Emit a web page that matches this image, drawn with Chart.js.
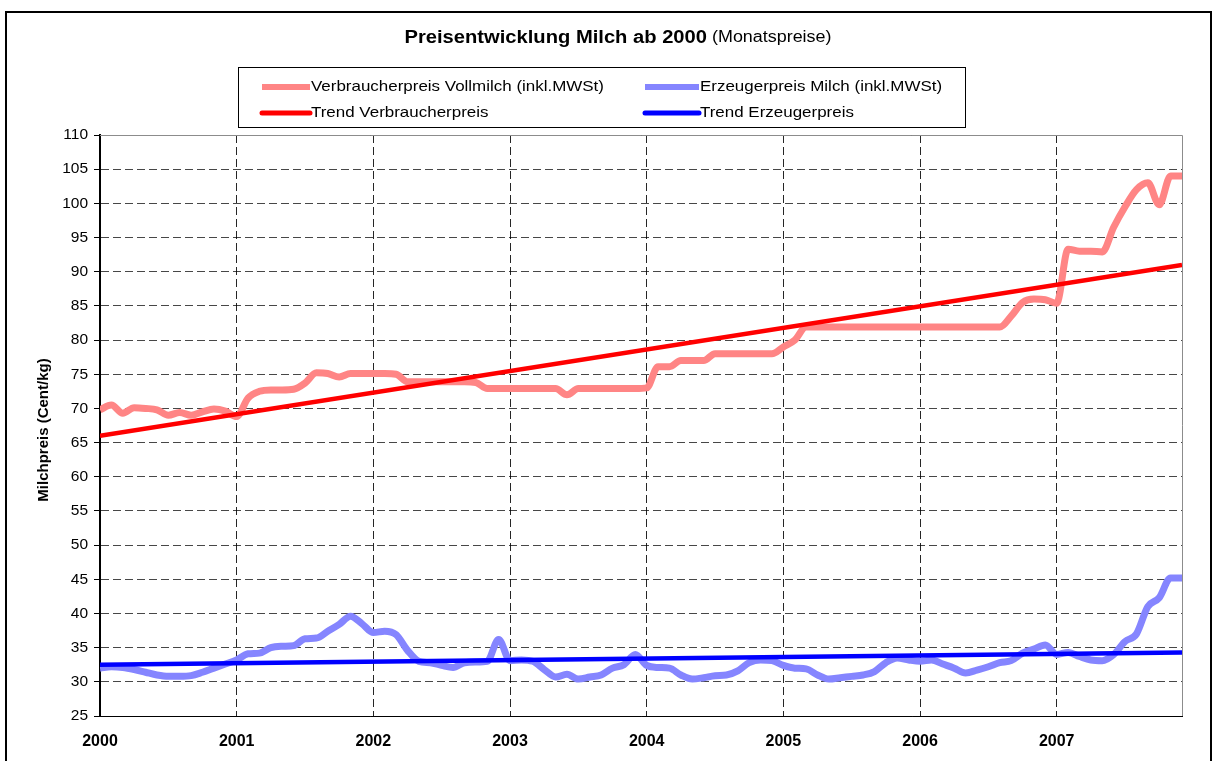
<!DOCTYPE html>
<html lang="de">
<head>
  <meta charset="UTF-8">
  <title>Preisentwicklung Milch ab 2000</title>
  <script src="https://cdn.jsdelivr.net/npm/chart.js"></script>
  <style>
    html, body { margin: 0; padding: 0; background: #fff; }
    canvas { display: block; }
  </style>
</head>
<body>
  <canvas id="milchChart" width="1216" height="761"></canvas>

  <script>
    // Jahresbeschriftung der x-Achse (ein Tick je 12 Monate, Jan 2000 = Monat 0)
    const yearLabels = ['2000', '2001', '2002', '2003', '2004', '2005', '2006', '2007'];

    // Monatspreise Jan 2000 - Dez 2007 (Cent/kg)
    const verbraucherpreis = [
      69.8, 70.5, 69.3, 70.1, 70.0, 69.8, 69.0, 69.4, 69.0, 69.5, 69.9, 69.6,
      68.8, 71.5, 72.5, 72.7, 72.7, 72.8, 73.7, 75.2, 75.1, 74.6, 75.1, 75.1,
      75.1, 75.1, 75.0, 73.9, 73.9, 73.9, 73.9, 73.9, 73.9, 73.8, 72.9, 72.9,
      72.9, 72.9, 72.9, 72.9, 72.9, 72.0, 72.9, 72.9, 72.9, 72.9, 72.9, 72.9,
      73.0, 76.1, 76.1, 77.0, 77.0, 77.0, 78.0, 78.0, 78.0, 78.0, 78.0, 78.0,
      79.0, 80.0, 81.9, 81.9, 81.9, 81.9, 81.9, 81.9, 81.9, 81.9, 81.9, 81.9,
      81.9, 81.9, 81.9, 81.9, 81.9, 81.9, 81.9, 81.9, 83.5, 85.5, 86.0, 85.9,
      85.4, 93.3, 93.0, 93.0, 92.9, 96.5, 99.5, 102.0, 103.0, 99.8, 104.0, 104.0
    ];
    const erzeugerpreis = [
      32.0, 32.2, 32.1, 31.8, 31.4, 31.0, 30.8, 30.8, 30.9, 31.4, 32.0, 32.6,
      33.2, 34.1, 34.2, 35.0, 35.2, 35.3, 36.3, 36.4, 37.4, 38.4, 39.6, 38.5,
      37.2, 37.4, 36.9, 34.6, 33.0, 32.8, 32.4, 32.1, 32.8, 32.9, 33.0, 36.2,
      33.1, 33.2, 33.0, 31.8, 30.7, 31.1, 30.4, 30.7, 31.0, 32.0, 32.5, 34.0,
      32.4, 32.1, 32.0, 31.0, 30.4, 30.6, 30.9, 31.0, 31.6, 32.8, 33.2, 33.1,
      32.4, 32.0, 31.9, 31.0, 30.4, 30.6, 30.8, 31.0, 31.5, 32.8, 33.5, 33.2,
      33.0, 33.2, 32.6, 32.0, 31.3, 31.7, 32.2, 32.8, 33.1, 34.2, 34.8, 35.4,
      34.0, 34.3, 33.7, 33.2, 33.1, 34.0, 35.9, 37.0, 41.0, 42.3, 45.2, 45.2
    ];
    // Lineare Trends: Wert am ersten und letzten Monat
    const trendVerbraucher = [66.0, 91.0];
    const trendErzeuger = [32.5, 34.3];

    const lastMonth = verbraucherpreis.length - 1;
    const toPoints = arr => arr.map((v, i) => ({ x: i, y: v }));
    const trendPoints = arr => [{ x: 0, y: arr[0] }, { x: lastMonth, y: arr[1] }];

    const FONT = '"Liberation Sans", Arial, sans-serif';

    // Text leicht in die Breite gezogen, wie in der Vorlage
    function wideText(ctx, text, x, y, sx) {
      ctx.save();
      ctx.translate(x, y);
      ctx.scale(sx, 1);
      ctx.fillText(text, 0, 0);
      ctx.restore();
    }

    // Rahmen, Titel, Legende und y-Achsentitel wie in der Excel-Vorlage
    const decorPlugin = {
      id: 'decor',
      afterDraw(chart) {
        const ctx = chart.ctx;
        const area = chart.chartArea;
        ctx.save();

        // Aussenrahmen
        ctx.strokeStyle = '#000';
        ctx.lineWidth = 2;
        ctx.strokeRect(6, 12, 1205, 760);

        // Plotrahmen oben/rechts
        ctx.strokeStyle = '#8c8c8c';
        ctx.lineWidth = 1;
        ctx.beginPath();
        ctx.moveTo(area.left, area.top + 0.5);
        ctx.lineTo(area.right + 0.5, area.top + 0.5);
        ctx.lineTo(area.right + 0.5, area.bottom);
        ctx.stroke();

        // Titel: fetter Teil + normaler Teil
        const sx = 1.12;
        const t1 = 'Preisentwicklung Milch ab 2000';
        const t2 = ' (Monatspreise)';
        ctx.textBaseline = 'middle';
        ctx.textAlign = 'left';
        ctx.fillStyle = '#000';
        ctx.font = 'bold 18px ' + FONT;
        const w1 = ctx.measureText(t1).width * sx;
        ctx.font = '16px ' + FONT;
        const w2 = ctx.measureText(t2).width * sx;
        const tx = 618 - (w1 + w2) / 2;
        ctx.font = 'bold 18px ' + FONT;
        wideText(ctx, t1, tx, 38, sx);
        ctx.font = '16px ' + FONT;
        wideText(ctx, t2, tx + w1, 38, sx);

        // Legende
        ctx.strokeStyle = '#000';
        ctx.lineWidth = 1;
        ctx.strokeRect(238.5, 67.5, 727, 60);
        const cols = [{ x1: 262, x2: 310 }, { x1: 645, x2: 699 }];
        const slots = [
          { ds: 0, col: 0, y: 87 },
          { ds: 1, col: 1, y: 87 },
          { ds: 2, col: 0, y: 113 },
          { ds: 3, col: 1, y: 113 }
        ];
        slots.forEach(s => {
          const ds = chart.data.datasets[s.ds];
          const c = cols[s.col];
          ctx.beginPath();
          ctx.strokeStyle = ds.borderColor;
          ctx.lineWidth = s.ds < 2 ? 6 : 5;
          ctx.lineCap = s.ds < 2 ? 'butt' : 'round';
          ctx.moveTo(c.x1, s.y);
          ctx.lineTo(c.x2, s.y);
          ctx.stroke();
          ctx.fillStyle = '#000';
          ctx.font = '15px ' + FONT;
          wideText(ctx, ds.label, c.x2 + 1, s.y, 1.13);
        });

        // y-Achsentitel
        ctx.translate(44, 430);
        ctx.rotate(-Math.PI / 2);
        ctx.textAlign = 'center';
        ctx.font = 'bold 15px ' + FONT;
        ctx.fillText('Milchpreis (Cent/kg)', 0, 0);

        ctx.restore();
      }
    };

    const ctx = document.getElementById('milchChart').getContext('2d');
    new Chart(ctx, {
      type: 'line',
      data: {
        datasets: [
          {
            label: 'Verbraucherpreis Vollmilch (inkl.MWSt)',
            data: toPoints(verbraucherpreis),
            borderColor: '#ff8585',
            borderWidth: 7,
            pointRadius: 0,
            cubicInterpolationMode: 'monotone',
            order: 2
          },
          {
            label: 'Erzeugerpreis Milch (inkl.MWSt)',
            data: toPoints(erzeugerpreis),
            borderColor: '#8585ff',
            borderWidth: 7,
            pointRadius: 0,
            cubicInterpolationMode: 'monotone',
            order: 2
          },
          {
            label: 'Trend Verbraucherpreis',
            data: trendPoints(trendVerbraucher),
            borderColor: '#ff0000',
            borderWidth: 4.5,
            pointRadius: 0,
            order: 1
          },
          {
            label: 'Trend Erzeugerpreis',
            data: trendPoints(trendErzeuger),
            borderColor: '#0000ff',
            borderWidth: 4.5,
            pointRadius: 0,
            order: 1
          }
        ]
      },
      options: {
        responsive: false,
        animation: false,
        layout: { padding: { top: 135, right: 34, left: 0, bottom: 0 } },
        plugins: {
          legend: { display: false },
          title: { display: false },
          tooltip: { enabled: false }
        },
        scales: {
          x: {
            type: 'linear',
            min: 0,
            max: lastMonth,
            afterBuildTicks: scale => {
              scale.ticks = yearLabels.map((_, k) => ({ value: k * 12 }));
            },
            afterFit: scale => { scale.height = 45; },
            ticks: {
              autoSkip: false,
              maxRotation: 0,
              padding: 16,
              color: '#000',
              font: { family: FONT, size: 16, weight: 'bold' },
              callback: v => yearLabels[v / 12]
            },
            grid: {
              // keine gestrichelte Linie über der y-Achse
              color: c => (c.index === 0 ? 'rgba(0,0,0,0)' : 'rgba(0,0,0,0.85)'),
              drawTicks: false
            },
            border: { display: true, color: '#000', width: 1, dash: [8, 4] }
          },
          y: {
            min: 25,
            max: 110,
            afterFit: scale => { scale.width = 100; },
            ticks: {
              stepSize: 5,
              padding: 6,
              color: '#000',
              font: { family: FONT, size: 15.5 }
            },
            grid: {
              color: 'rgba(0,0,0,0.72)',
              tickLength: 6,
              tickColor: '#000'
            },
            border: { display: true, color: '#000', width: 2, dash: [8, 4] }
          }
        }
      },
      plugins: [decorPlugin]
    });
  </script>
</body>
</html>
